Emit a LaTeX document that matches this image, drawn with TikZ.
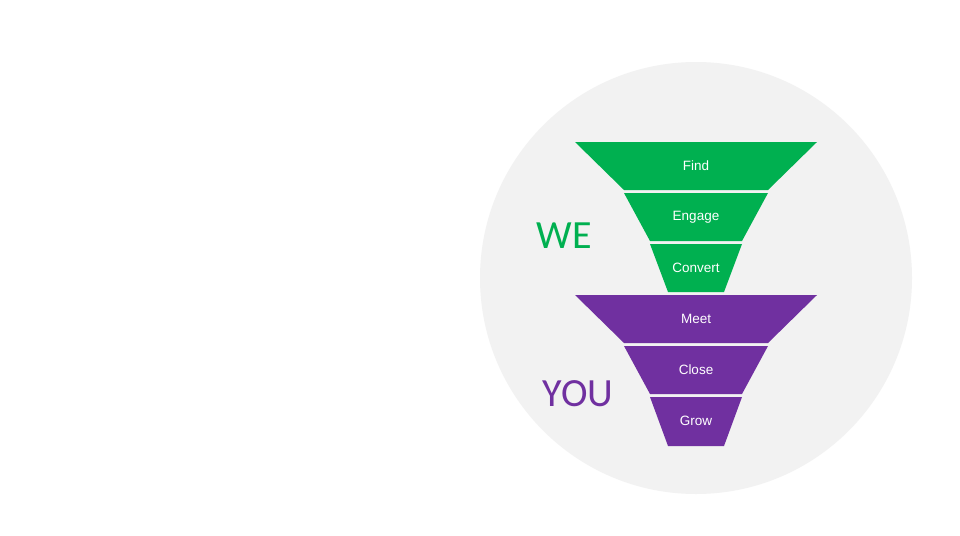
\documentclass[tikz,border=0pt]{standalone}
\usepackage{fontspec}
\setmainfont{Liberation Sans}
\newfontfamily\bigfont{Carlito}
\usepackage{tikz}
\usetikzlibrary{positioning, calc}
\definecolor{funnelgreen}{HTML}{00B050}
\definecolor{funnelpurple}{HTML}{7030A0}
\definecolor{circlegray}{HTML}{F2F2F2}

\tikzset{
  steplabel/.style={text=white, font=\fontsize{13.5}{16}\selectfont, inner sep=0pt},
  sidelabel/.style={font=\bigfont\fontsize{40}{44}\selectfont, inner sep=0pt}
}

\begin{document}
\begin{tikzpicture}[x=1pt, y=-1pt]

            % Khung hình
            \useasboundingbox (0,0) rectangle (960,535);
            \fill[white] (0,0) rectangle (960,535);

            % Vẽ hình tròn nền
            \fill[circlegray] (696,278) circle (216);

            % Vẽ phễu xanh
            \fill[funnelgreen] (575,142) -- (817,142) -- (768,190) -- (624,190) -- cycle;
            \fill[funnelgreen] (624,193) -- (768,193) -- (742,241) -- (650,241) -- cycle;
            \fill[funnelgreen] (650,244) -- (742,244) -- (724,292) -- (668,292) -- cycle;

            % Vẽ phễu tím
            \fill[funnelpurple] (575,295) -- (817,295) -- (768,343) -- (624,343) -- cycle;
            \fill[funnelpurple] (624,346) -- (768,346) -- (742,394) -- (650,394) -- cycle;
            \fill[funnelpurple] (650,397) -- (742,397) -- (724,446) -- (668,446) -- cycle;

            % Ghi nhãn các bước
            \node[steplabel] (find) at (696,166) {Find};
            \node[steplabel] (engage) at (696,217) {Engage};
            \node[steplabel] (convert) at (696,268) {Convert};
            \node[steplabel] (meet) at (696,319) {Meet};
            \node[steplabel] (close) at (696,370) {Close};
            \node[steplabel] (grow) at (696,421) {Grow};

            % Ghi chữ WE và YOU
            \node[sidelabel, text=funnelgreen] (we) at (564,236) {WE};
            \node[sidelabel, text=funnelpurple] (you) at (578,394) {YOU};

\end{tikzpicture}
\end{document}
